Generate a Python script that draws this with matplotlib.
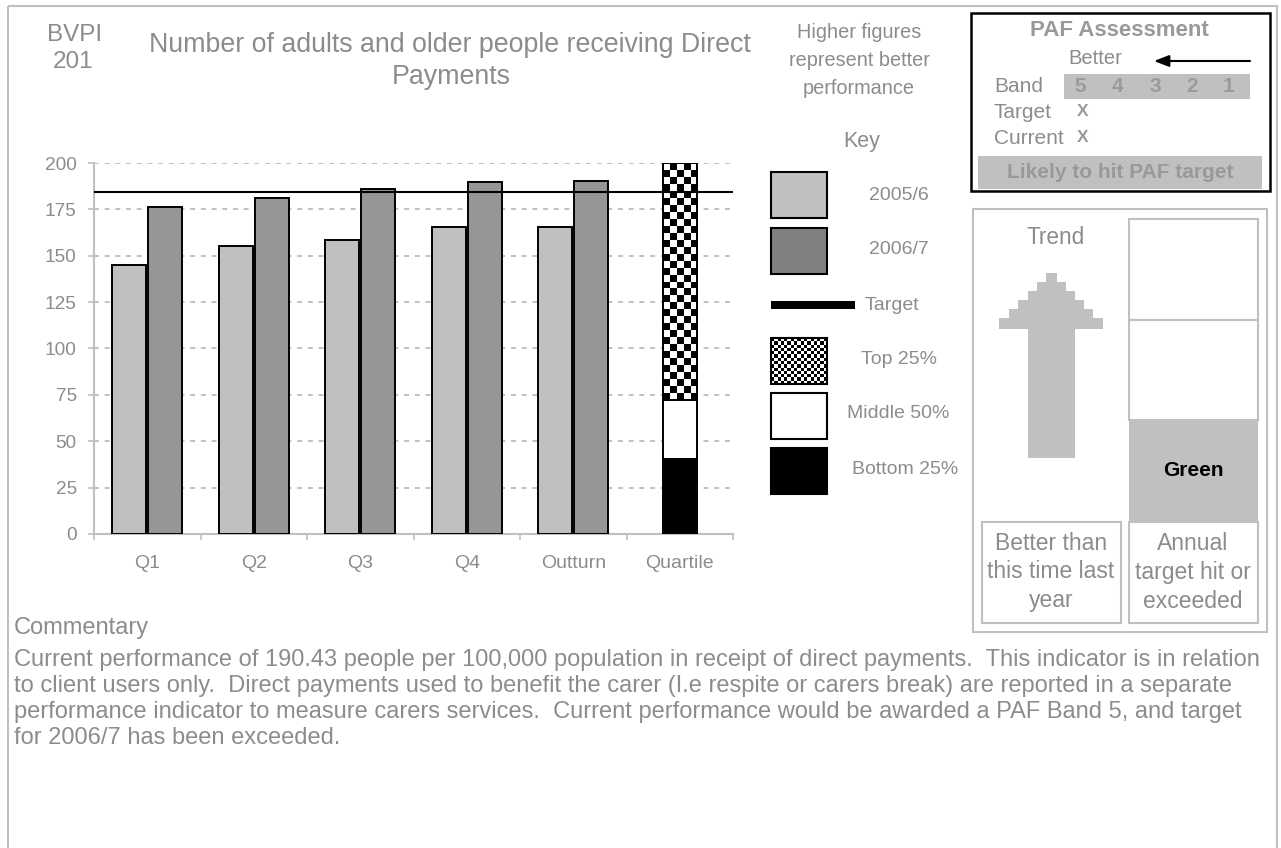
import numpy as np
import matplotlib
matplotlib.use("Agg")
import matplotlib.pyplot as plt
from matplotlib.patches import Rectangle, Polygon

# ---- data ----
categories = ["Q1", "Q2", "Q3", "Q4", "Outturn"]
quartile_label = "Quartile"
values_2005_6 = [145.0, 155.5, 158.5, 165.5, 165.5]
values_2006_7 = [176.5, 181.0, 186.0, 190.0, 190.43]
target_value = 184.5
quartile_bottom = 40.5   # top of bottom 25%
quartile_middle = 72.5   # top of middle 50%
quartile_top = 200.0     # top of top 25%
y_ticks = [0, 25, 50, 75, 100, 125, 150, 175, 200]
band_labels = ["5", "4", "3", "2", "1"]
key_labels = ["2005/6", "2006/7", "Target", "Top 25%", "Middle 50%", "Bottom 25%"]
commentary_lines = [
    "Current performance of 190.43 people per 100,000 population in receipt of direct payments.  This indicator is in relation",
    "to client users only.  Direct payments used to benefit the carer (I.e respite or carers break) are reported in a separate",
    "performance indicator to measure carers services.  Current performance would be awarded a PAF Band 5, and target",
    "for 2006/7 has been exceeded.",
]

# ---- style ----
FONT = "Liberation Sans"
TXT = "#8C8C8C"
LIGHT = "#C0C0C0"
DARK = "#969696"
plt.rcParams["font.family"] = [FONT, "DejaVu Sans"]

W, H = 1281, 848
fig = plt.figure(figsize=(W / 100, H / 100), dpi=100)
fig.patch.set_facecolor("white")

# page layer in pixel coordinates
pg = fig.add_axes([0, 0, 1, 1])
pg.set_xlim(0, W)
pg.set_ylim(H, 0)
pg.axis("off")


def px_box(x0, y0, x1, y1):
    return [x0 / W, 1 - y1 / H, (x1 - x0) / W, (y1 - y0) / H]


def rect(x0, y0, x1, y1, **kw):
    r = Rectangle((x0, y0), x1 - x0, y1 - y0, **kw)
    pg.add_patch(r)
    return r


def txt(x, y, s, size=13.5, ha="center", color=TXT, weight="normal", **kw):
    pg.text(x, y, s, fontsize=size, ha=ha, va="center", color=color,
            fontweight=weight, **kw)


# outer page frame
rect(8, 6, 1277, 870, fill=False, ec=LIGHT, lw=1.5)

# headings
txt(75, 35, "BVPI", size=17.5)
txt(73, 62, "201", size=17.5)
txt(450, 45, "Number of adults and older people receiving Direct", size=19.3)
txt(451, 77, "Payments", size=19.3)
for i, line in enumerate(["Higher figures", "represent better", "performance"]):
    txt(859, 33 + 27.5 * i, line, size=14.3)
txt(862, 142, "Key", size=15.5)

# ---- main chart ----
ax = fig.add_axes(px_box(94, 163, 733, 534))
ax.set_zorder(2)
ax.patch.set_alpha(0)

x = np.arange(len(categories))
bw = 0.32
ax.bar(x - 0.17, values_2005_6, bw, color=LIGHT, edgecolor="black", lw=1.4, zorder=3)
ax.bar(x + 0.17, values_2006_7, bw, color=DARK, edgecolor="black", lw=1.4, zorder=3)

qx = len(categories)
ax.bar(qx, quartile_bottom, bw, color="black", edgecolor="black", lw=1.4, zorder=3)
ax.bar(qx, quartile_middle - quartile_bottom, bw, bottom=quartile_bottom,
       color="white", edgecolor="black", lw=1.4, zorder=3)
top_bar = ax.bar(qx, quartile_top - quartile_middle, bw, bottom=quartile_middle,
                 color="white", edgecolor="none", zorder=3)[0]
n_cols = 5
n_rows = int(round((quartile_top - quartile_middle) / 3.75))
checker = np.add.outer(np.arange(n_rows), np.arange(n_cols)) % 2
im = ax.imshow(checker, cmap="gray", vmin=0, vmax=1, origin="lower", aspect="auto",
               interpolation="nearest", zorder=3.5,
               extent=(qx - bw / 2, qx + bw / 2, quartile_middle, quartile_top))
im.set_clip_path(top_bar)
ax.bar(qx, quartile_top - quartile_middle, bw, bottom=quartile_middle,
       fill=False, edgecolor="black", lw=1.4, zorder=4)

ax.axhline(target_value, color="black", lw=1.5, zorder=5)

ax.set_xlim(-0.5, len(categories) + 0.5)
ax.set_ylim(0, 200)
ax.set_yticks(y_ticks)
ax.yaxis.grid(True, linestyle=(0, (2.5, 3)), color=LIGHT, lw=1.4)
ax.set_axisbelow(True)
for s in ("top", "right"):
    ax.spines[s].set_visible(False)
for s in ("left", "bottom"):
    ax.spines[s].set_color(LIGHT)
    ax.spines[s].set_linewidth(1.5)

ax.set_xticks(np.arange(-0.5, len(categories) + 1, 1))
ax.set_xticklabels([])
ax.set_xticks(np.arange(len(categories) + 1), minor=True)
ax.set_xticklabels(categories + [quartile_label], minor=True)
ax.tick_params(axis="x", which="major", length=4.5, color=LIGHT, width=1.2)
ax.tick_params(axis="x", which="minor", length=0, pad=15, labelsize=14, labelcolor=TXT)
ax.tick_params(axis="y", length=4.5, color=LIGHT, width=1.2, pad=8,
               labelsize=13.7, labelcolor=TXT)

# ---- key ----
kx0, kx1 = 771, 827
rect(kx0, 172, kx1, 218, fc=LIGHT, ec="black", lw=1.5)
rect(kx0, 228, kx1, 274, fc="#808080", ec="black", lw=1.5)
rect(kx0, 301, 855, 309, fc="black", ec="none")
kchk = np.add.outer(np.arange(14), np.arange(17)) % 2
pg.imshow(kchk, cmap="gray", vmin=0, vmax=1, aspect="auto", interpolation="nearest",
          extent=(kx0, kx1, 384, 338), zorder=2)
rect(kx0, 338, kx1, 384, fill=False, ec="black", lw=1.5, zorder=3)
rect(kx0, 393, kx1, 439, fc="white", ec="black", lw=1.5)
rect(kx0, 448, kx1, 494, fc="black", ec="black", lw=1.5)
pg.set_xlim(0, W)
pg.set_ylim(H, 0)
txt(899, 195, key_labels[0], size=14)
txt(899, 250, key_labels[1], size=14)
txt(865, 305, key_labels[2], size=14, ha="left")
txt(899, 360, key_labels[3], size=14)
txt(898, 414, key_labels[4], size=14)
txt(905, 469, key_labels[5], size=14)

# ---- PAF assessment box ----
rect(971, 13, 1270, 191, fill=False, ec="black", lw=1.8)
txt(1119, 31, "PAF Assessment", size=16, weight="bold", color="#999999")
txt(1095, 59, "Better", size=14.5)
pg.annotate("", xy=(1154, 61), xytext=(1250, 61),
            arrowprops=dict(arrowstyle="-|>,head_length=0.9,head_width=0.35",
                            color="black", lw=1.5, shrinkA=0, shrinkB=0))
txt(994, 87, "Band", size=15, ha="left")
rect(1064, 74, 1250, 99, fc=LIGHT, ec="none")
for lab, bx in zip(band_labels, [1080, 1117, 1155, 1192, 1229]):
    txt(bx, 87, lab, size=15, color="#9A9A9A", weight="bold")
txt(994, 113, "Target", size=15, ha="left")
txt(1083, 112, "X", size=12.5, color="#999999", weight="bold")
txt(994, 138, "Current", size=15, ha="left")
txt(1083, 137, "X", size=12.5, color="#999999", weight="bold")
rect(978, 156, 1262, 189, fc=LIGHT, ec="none")
txt(1120, 172, "Likely to hit PAF target", size=15, weight="bold", color="#999999")

# ---- trend panel ----
rect(973, 209, 1267, 632, fill=False, ec=LIGHT, lw=1.5)
txt(1056, 238, "Trend", size=16.3)
arrow_pts = [
    (1046, 273), (1057, 273), (1057, 282), (1066, 282), (1066, 291), (1075, 291),
    (1075, 300), (1084, 300), (1084, 309), (1093, 309), (1093, 318), (1103, 318),
    (1103, 329), (1075, 329), (1075, 458), (1028, 458), (1028, 329), (999, 329),
    (999, 318), (1009, 318), (1009, 309), (1018, 309), (1018, 300), (1028, 300),
    (1028, 291), (1037, 291), (1037, 282), (1046, 282),
]
pg.add_patch(Polygon(arrow_pts, closed=True, fc=LIGHT, ec="none"))
rect(982, 522, 1121, 623, fill=False, ec=LIGHT, lw=1.5)
for i, line in enumerate(["Better than", "this time last", "year"]):
    txt(1051, 543 + 29 * i, line, size=16.5)

rect(1129, 219, 1258, 320, fc="white", ec=LIGHT, lw=1.5)
rect(1129, 320, 1258, 420, fc="white", ec=LIGHT, lw=1.5)
rect(1129, 420, 1258, 522, fc=LIGHT, ec="none")
txt(1193, 470, "Green", size=15, weight="bold", color="black")
rect(1129, 522, 1258, 623, fill=False, ec=LIGHT, lw=1.5)
for i, line in enumerate(["Annual", "target hit or", "exceeded"]):
    txt(1193, 543 + 29 * i, line, size=16.5)

# ---- commentary ----
txt(14, 628, "Commentary", size=17, ha="left")
for i, line in enumerate(commentary_lines):
    txt(14, 660 + 26 * i, line, size=17, ha="left")

fig.savefig("out.png", dpi=100, facecolor="white")
